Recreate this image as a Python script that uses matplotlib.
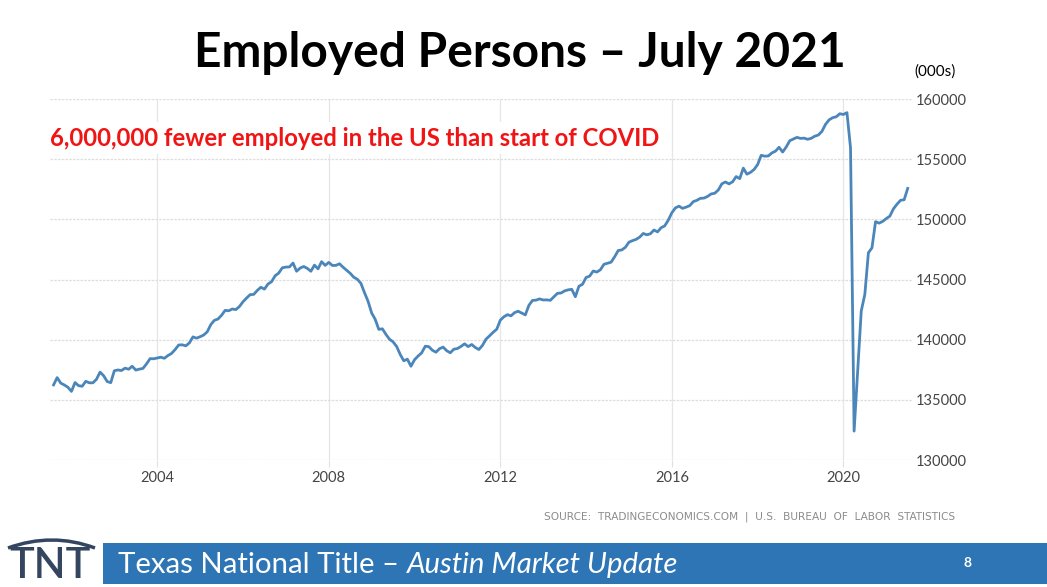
import numpy as np
import matplotlib
matplotlib.use("Agg")
import matplotlib.pyplot as plt
from matplotlib.patches import Rectangle, PathPatch
from matplotlib.path import Path

# ---- data: US employed persons (thousands), monthly, Aug 2001 - Jul 2021 ----
start_year, start_month = 2001, 8
v2001 = [136241, 136846, 136392, 136238, 136047]
v2002 = [135701, 136438, 136177, 136126, 136539, 136415, 136413, 136705, 137302, 137008, 136521, 136426]
v2003 = [137417, 137482, 137434, 137633, 137544, 137790, 137474, 137549, 137609, 137984, 138424, 138411]
v2004 = [138472, 138542, 138453, 138680, 138852, 139174, 139556, 139573, 139487, 139732, 140231, 140125]
v2005 = [140245, 140385, 140654, 141254, 141609, 141714, 142026, 142434, 142401, 142548, 142499, 142752]
v2006 = [143150, 143457, 143741, 143761, 144089, 144353, 144202, 144625, 144815, 145314, 145534, 145970]
v2007 = [146032, 146043, 146368, 145686, 145952, 146079, 145926, 145685, 146193, 145885, 146483, 146173]
v2008 = [146421, 146165, 146173, 146306, 146023, 145768, 145515, 145187, 145021, 144677, 143907, 143188]
v2009 = [142221, 141687, 140854, 140902, 140438, 140038, 139817, 139433, 138768, 138242, 138381, 137792]
v2010 = [138333, 138641, 138905, 139455, 139420, 139119, 138960, 139250, 139382, 139084, 138909, 139206]
v2011 = [139264, 139438, 139654, 139424, 139600, 139351, 139180, 139518, 140043, 140319, 140614, 140866]
v2012 = [141617, 141901, 142078, 141982, 142248, 142364, 142212, 142057, 142852, 143260, 143285, 143388]
v2013 = [143299, 143308, 143271, 143559, 143852, 143877, 144053, 144141, 144183, 143567, 144440, 144602]
v2014 = [145165, 145280, 145706, 145618, 145807, 146262, 146348, 146440, 146891, 147409, 147458, 147677]
v2015 = [148104, 148231, 148333, 148523, 148826, 148715, 148800, 149113, 148958, 149303, 149453, 149929]
v2016 = [150544, 150951, 151093, 150913, 151013, 151138, 151470, 151581, 151745, 151765, 151904, 152111]
v2017 = [152167, 152439, 152953, 153106, 152945, 153122, 153556, 153381, 154257, 153751, 153903, 154140]
v2018 = [154548, 155322, 155247, 155270, 155521, 155665, 155989, 155594, 156011, 156535, 156674, 156812]
v2019 = [156725, 156748, 156653, 156731, 156910, 157008, 157313, 157894, 158266, 158446, 158524, 158776]
v2020 = [158714, 158866, 155932, 132400, 137460, 142386, 143759, 147224, 147633, 149806, 149684, 149830]
v2021 = [150063, 150265, 150870, 151257, 151585, 151626, 152572]

year_ticks = [2004, 2008, 2012, 2016, 2020]
y_ticks = [130000, 135000, 140000, 145000, 150000, 155000, 160000]

title = "Employed Persons \u2013 July 2021"
note = "6,000,000 fewer employed in the US than start of COVID"
units = "(000s)"
source = "SOURCE:  TRADINGECONOMICS.COM  |  U.S.  BUREAU  OF  LABOR  STATISTICS"
footer_a = "Texas National Title \u2013 "
footer_b = "Austin Market Update"
page = "8"

values = np.array(v2001 + v2002 + v2003 + v2004 + v2005 + v2006 + v2007 + v2008 +
                  v2009 + v2010 + v2011 + v2012 + v2013 + v2014 + v2015 + v2016 +
                  v2017 + v2018 + v2019 + v2020 + v2021, dtype=float)
t = start_year + (start_month - 1) / 12 + np.arange(len(values)) / 12

W, H = 1047, 587
fig = plt.figure(figsize=(W / 100, H / 100), dpi=100)
fig.patch.set_facecolor("white")

def fx(px):
    return px / W

def fy(py):
    return 1 - py / H

ax = fig.add_axes([fx(50), fy(460), fx(912) - fx(50), fy(99) - fy(460)])
ax.plot(t, values, color="#4b86ba", lw=2.0, solid_joinstyle="round", zorder=3)
ax.set_xlim(2001.5, 2021.6)
ax.set_ylim(130000, 160000)
for s in ax.spines.values():
    s.set_visible(False)
ax.set_xticks(year_ticks)
ax.set_xticklabels([str(y) for y in year_ticks])
ax.set_yticks(y_ticks)
ax.set_yticklabels([str(v) for v in y_ticks])
ax.yaxis.tick_right()
ax.tick_params(axis="y", length=0, pad=3, labelsize=10.5, labelcolor="#444444")
ax.tick_params(axis="x", length=5, width=0.8, color="#e0e0e0", pad=3,
               labelsize=10.5, labelcolor="#444444")
for lab in ax.get_xticklabels() + ax.get_yticklabels():
    lab.set_family("Lato")
ax.grid(axis="x", color="#e6e6e6", lw=0.9)
ax.grid(axis="y", color="#dedede", lw=0.9, linestyle=(0, (2, 1)))
ax.set_axisbelow(True)

fig.text(fx(50), fy(138), note, ha="left", va="center", color="#f01414",
         fontsize=17.2, fontweight="bold", family="Lato", zorder=4,
         bbox=dict(facecolor="white", edgecolor="none", pad=3))

fig.text(fx(520), fy(53), title, ha="center", va="center", fontsize=34.5,
         fontweight="bold", family="Lato", color="black")
fig.text(fx(914), fy(72), units, ha="left", va="center", fontsize=11,
         family="Lato", color="black")
fig.text(fx(955), fy(517), source, ha="right", va="center", fontsize=7.6,
         family="DejaVu Sans", color="#8c8c8c")

# footer bar
fig.add_artist(Rectangle((fx(103), fy(584)), fx(1047) - fx(103), fy(543) - fy(584),
                         transform=fig.transFigure, facecolor="#2e75b6",
                         edgecolor="none"))
ta = fig.text(fx(118), fy(565), footer_a, ha="left", va="center", fontsize=21.2,
              family="Lato", color="white")
fig.canvas.draw()
bb = ta.get_window_extent()
fig.text(bb.x1 / W, fy(565), footer_b, ha="left", va="center", fontsize=21.2,
         family="Lato", style="italic", color="white")
fig.text(fx(968), fy(563), page, ha="center", va="center", fontsize=10,
         family="Lato", fontweight="bold", color="white")

# TNT logo
fig.text(fx(50), fy(566), "TNT", ha="center", va="center", fontsize=30,
         family="Lato", fontweight="semibold", color="#34455f")
arch = Path([(fx(8), fy(548)), (fx(52), fy(532)), (fx(95), fy(548))],
            [Path.MOVETO, Path.CURVE3, Path.CURVE3])
fig.add_artist(PathPatch(arch, transform=fig.transFigure, facecolor="none",
                         edgecolor="#34455f", lw=2.5))

fig.savefig("out.png", dpi=100)
